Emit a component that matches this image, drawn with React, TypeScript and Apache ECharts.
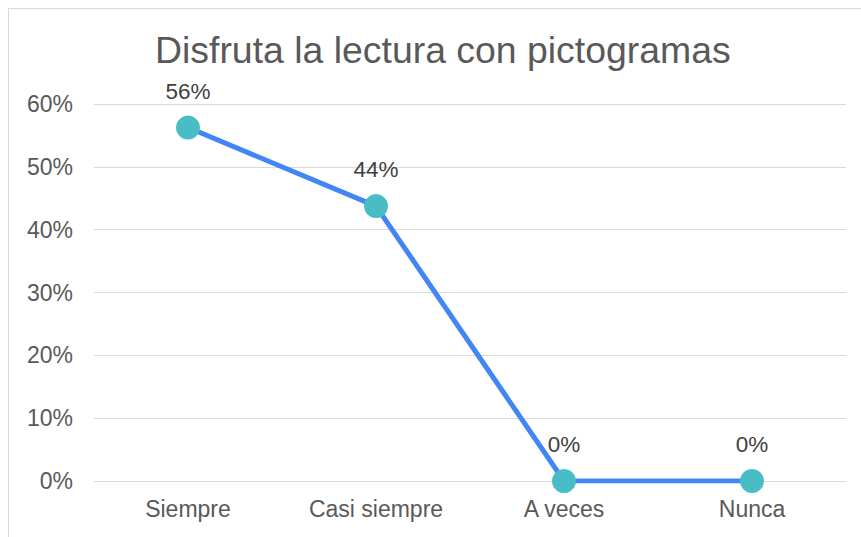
import React, { useEffect, useRef } from "react";
import * as echarts from "echarts";

const categories = ["Siempre", "Casi siempre", "A veces", "Nunca"];
const values = [56.25, 43.75, 0, 0];
const yTicks = { min: 0, max: 60, interval: 10 };
const titleText = "Disfruta la lectura con pictogramas";

export default function App() {
  const ref = useRef<HTMLDivElement>(null);
  useEffect(() => {
    if (!ref.current) return;
    const chart = echarts.init(ref.current, undefined, { renderer: "svg" });
    chart.setOption({
      animation: false,
      backgroundColor: "#ffffff",
      textStyle: { fontFamily: "Liberation Sans, Arial, sans-serif" },
      title: {
        text: titleText,
        left: 155,
        top: 31,
        padding: 0,
        textStyle: { fontSize: 37.4, fontWeight: "normal", color: "#595959", fontFamily: "Liberation Sans, Arial, sans-serif" },
      },
      graphic: [
        { type: "line", shape: { x1: 8.5, y1: 8.5, x2: 8.5, y2: 537 }, style: { stroke: "#d9d9d9", lineWidth: 1 } },
        { type: "line", shape: { x1: 8.5, y1: 8.5, x2: 861, y2: 8.5 }, style: { stroke: "#d9d9d9", lineWidth: 1 } },
      ],
      grid: { left: 94, right: 15, top: 104, bottom: 56, containLabel: false },
      xAxis: {
        type: "category",
        data: categories,
        boundaryGap: true,
        axisLine: { show: true, lineStyle: { color: "#d9d9d9", width: 1 } },
        axisTick: { show: false },
        axisLabel: { color: "#595959", fontSize: 23, margin: 16 },
      },
      yAxis: {
        type: "value",
        min: yTicks.min,
        max: yTicks.max,
        interval: yTicks.interval,
        axisLine: { show: false },
        axisTick: { show: false },
        axisLabel: { color: "#595959", fontSize: 23, margin: 21, formatter: "{value}%" },
        splitLine: { lineStyle: { color: "#d9d9d9", width: 1 } },
      },
      series: [
        {
          type: "line",
          data: values,
          symbol: "circle",
          symbolSize: 24,
          lineStyle: { color: "#4285f4", width: 5 },
          itemStyle: { color: "#48bdc6" },
          label: {
            show: true,
            position: "top",
            distance: 13,
            fontSize: 22.5,
            color: "#404040",
            formatter: (p: any) => Math.round(p.value) + "%",
          },
        },
      ],
    });
    return () => chart.dispose();
  }, []);
  return <div ref={ref} style={{ position: "fixed", left: 0, top: 0, width: 861, height: 537 }} />;
}
